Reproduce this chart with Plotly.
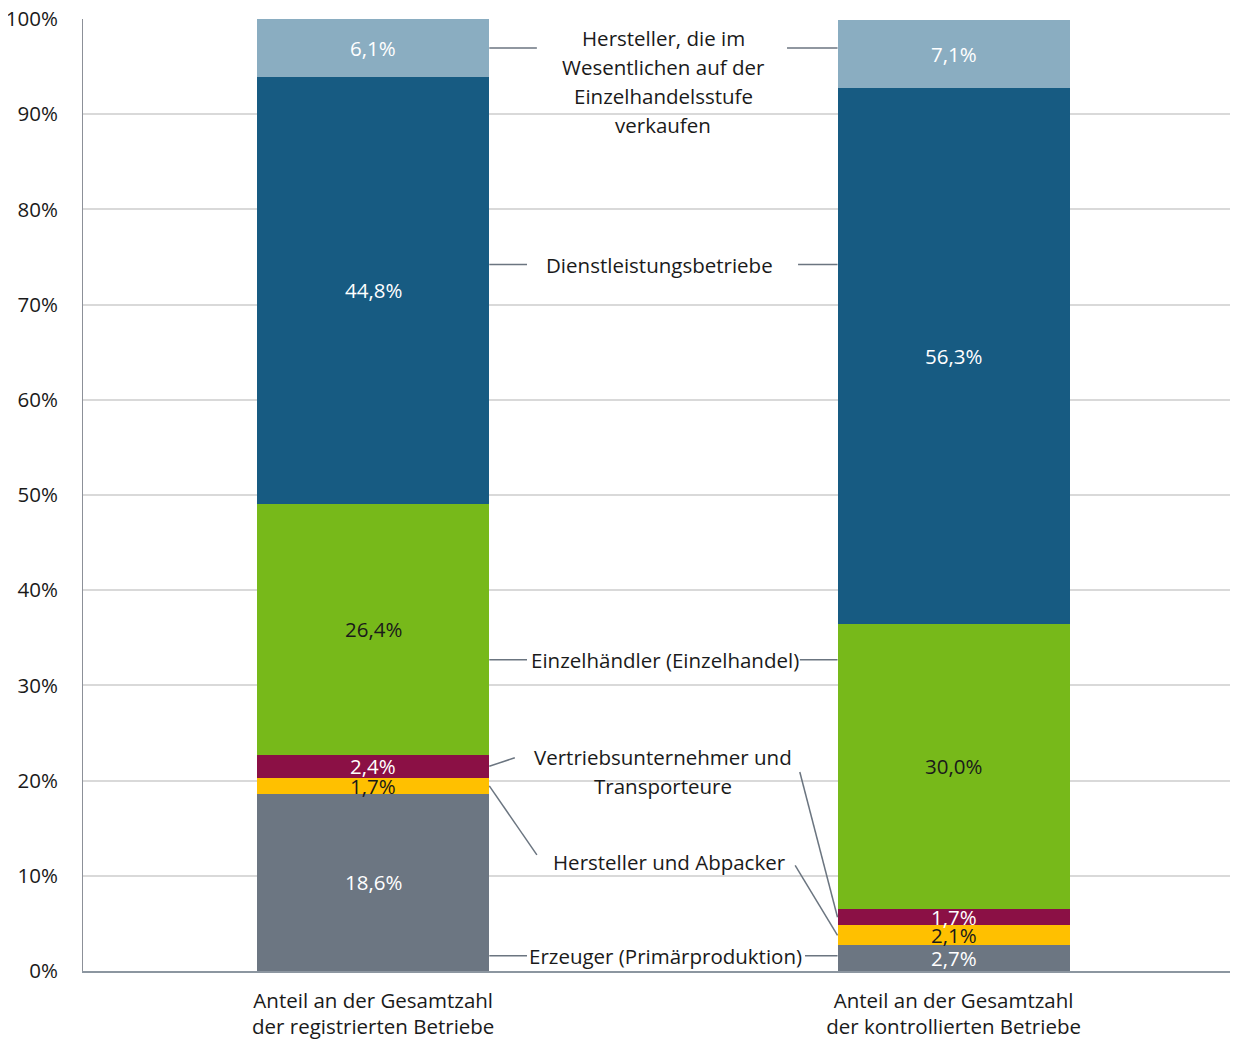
import plotly.graph_objects as go

FONT = "Open Sans"
TEXT = "#1A1A1A"
GRID = "#D9D9D9"
LEADER = "#6B7580"
FS = 20.5

categories = ["Anteil an der Gesamtzahl<br>der registrierten Betriebe",
              "Anteil an der Gesamtzahl<br>der kontrollierten Betriebe"]
series_names = [
    "Erzeuger (Primärproduktion)",
    "Hersteller und Abpacker",
    "Vertriebsunternehmer und Transporteure",
    "Einzelhändler (Einzelhandel)",
    "Dienstleistungsbetriebe",
    "Hersteller, die im Wesentlichen auf der Einzelhandelsstufe verkaufen",
]
registered = [18.6, 1.7, 2.4, 26.4, 44.8, 6.1]
controlled = [2.7, 2.1, 1.7, 30.0, 56.3, 7.1]
y_ticks = [0, 10, 20, 30, 40, 50, 60, 70, 80, 90, 100]

colors = ["#6C7682", "#FFC000", "#8B1045", "#77B91A", "#175B82", "#8AADC1"]
label_colors = ["white", TEXT, "white", TEXT, "white", "white"]

fig = go.Figure()
x_pos = [0, 1]
for i, name in enumerate(series_names):
    fig.add_trace(go.Bar(
        x=x_pos, y=[registered[i], controlled[i]], name=name,
        marker=dict(color=colors[i], line=dict(width=0)), width=0.4,
        hoverinfo="skip",
    ))

annotations = []
shapes = []


def mids(values):
    out, acc = [], 0
    for v in values:
        out.append(acc + v / 2)
        acc += v
    return out


# value labels in the middle of each segment
for xi, vals in zip(x_pos, [registered, controlled]):
    for i, (m, v) in enumerate(zip(mids(vals), vals)):
        annotations.append(dict(
            x=xi, y=m, xref="x", yref="y", showarrow=False,
            text=f"{v:.1f}".replace(".", ",") + "%",
            font=dict(family=FONT, size=FS, color=label_colors[i]),
        ))

mid_reg = mids(registered)
mid_con = mids(controlled)

# category labels between the bars: (lines, centre x, first line y)
labels = [
    (["Hersteller, die im", "Wesentlichen auf der", "Einzelhandelsstufe", "verkaufen"], 0.5, 98.0),
    (["Dienstleistungsbetriebe"], 0.494, 74.2),
    (["Einzelhändler (Einzelhandel)"], 0.503, 32.7),
    (["Vertriebsunternehmer und", "Transporteure"], 0.5, 22.5),
    (["Hersteller und Abpacker"], 0.511, 11.45),
    (["Erzeuger (Primärproduktion)"], 0.503, 1.6),
]
for lines, cx, y0 in labels:
    for k, line in enumerate(lines):
        annotations.append(dict(
            x=cx, y=y0 - k * 3.05, xref="x", yref="y", showarrow=False,
            text=line, font=dict(family=FONT, size=FS, color=TEXT),
        ))

# leader lines: (x0, y0, x1, y1)
leaders = [
    (0.2, mid_reg[5], 0.282, mid_reg[5]),
    (0.713, mid_reg[5], 0.8, mid_reg[5]),
    (0.2, 74.2, 0.265, 74.2),
    (0.732, 74.2, 0.8, 74.2),
    (0.2, 32.7, 0.265, 32.7),
    (0.735, 32.7, 0.8, 32.7),
    (0.2, mid_reg[2], 0.244, 22.4),
    (0.735, 20.9, 0.8, mid_con[2]),
    (0.2, mid_reg[1], 0.282, 12.2),
    (0.727, 11.1, 0.8, mid_con[1]),
    (0.2, 1.6, 0.265, 1.6),
    (0.744, 1.6, 0.8, 1.6),
]
for x0, y0, x1, y1 in leaders:
    shapes.append(dict(type="line", xref="x", yref="y", x0=x0, y0=y0, x1=x1, y1=y1,
                       line=dict(color=LEADER, width=1.5)))

# page body adds an 8px offset, so the figure is a bit smaller than the window
fig.update_layout(
    barmode="stack",
    width=1230, height=1035,
    margin=dict(l=75, r=0, t=11, b=72),
    paper_bgcolor="white", plot_bgcolor="white",
    showlegend=False,
    font=dict(family=FONT, size=FS, color=TEXT),
    annotations=annotations,
    shapes=shapes,
)
fig.update_xaxes(
    range=[-0.5, 1.49], tickvals=x_pos, ticktext=categories, automargin=False,
    showgrid=False, zeroline=False, showline=True, linecolor="#8C96A0", linewidth=2,
    tickfont=dict(family=FONT, size=FS, color=TEXT), ticks="", ticklabelstandoff=10,
)
fig.update_yaxes(
    range=[0, 100], tickvals=y_ticks, ticktext=[f"{t}%" for t in y_ticks],
    automargin=False, ticklabeloverflow="allow",
    showgrid=True, gridcolor=GRID, gridwidth=1.5, zeroline=False,
    showline=True, linecolor="#8C9098", linewidth=1,
    tickfont=dict(family=FONT, size=FS, color=TEXT), ticklabelstandoff=20,
)

fig.write_html("out.html")
